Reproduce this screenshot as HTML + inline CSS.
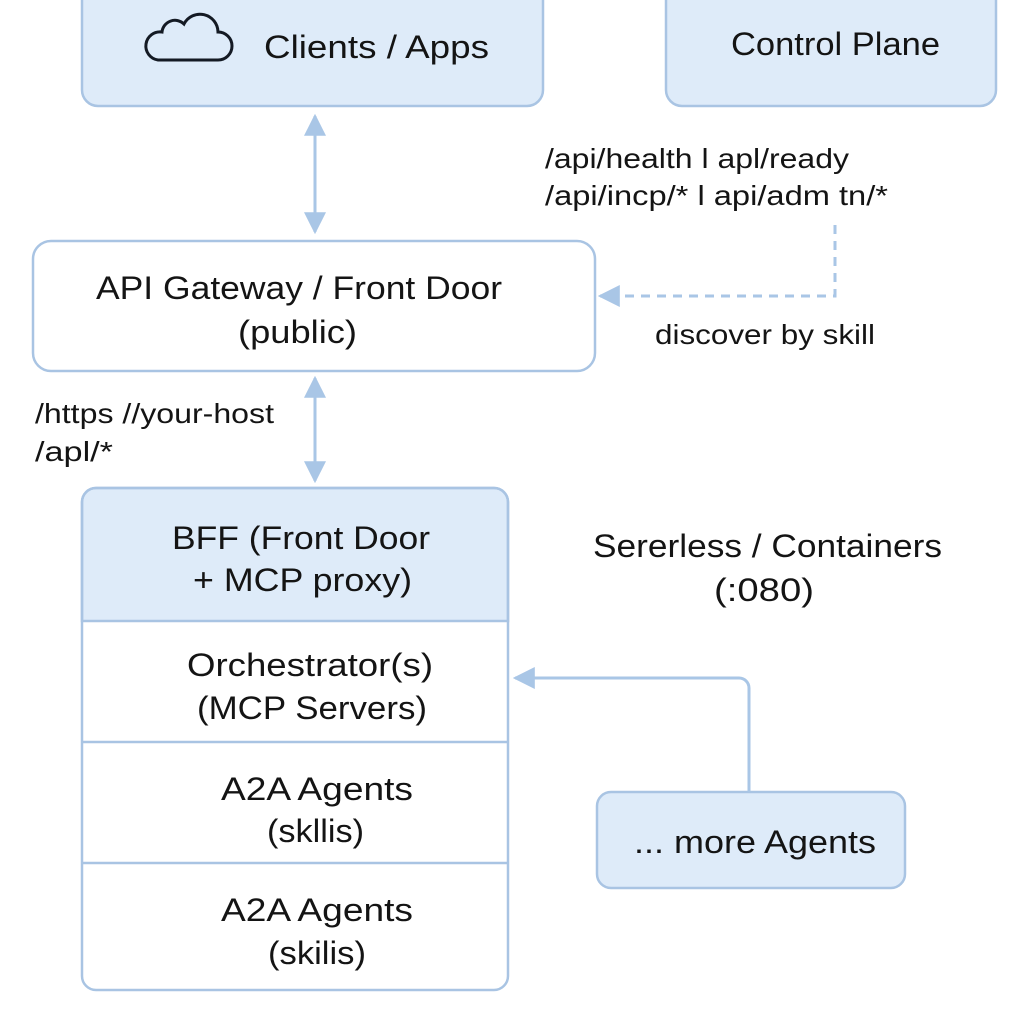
<!DOCTYPE html>
<html><head><meta charset="utf-8"><style>html,body{margin:0;padding:0;background:#fff}svg{display:block}text{font-family:"Liberation Sans","DejaVu Sans",sans-serif;fill:#141414}</style></head>
<body>
<svg width="1024" height="1024" viewBox="0 0 1024 1024" xmlns="http://www.w3.org/2000/svg">
<defs>
<marker id="ab" viewBox="0 0 10 10" markerWidth="22" markerHeight="22" refX="9" refY="5" orient="auto-start-reverse" markerUnits="userSpaceOnUse"><path d="M0,0 L10,5 L0,10 z" fill="#a9c6e6"/></marker>
</defs>
<g stroke="#a9c4e3" stroke-width="2.5">
<rect x="82" y="-20" width="461" height="126" rx="16" fill="#deebf9"/>
<rect x="666" y="-20" width="330" height="126" rx="16" fill="#deebf9"/>
<rect x="33" y="241" width="562" height="130" rx="18" fill="#fff"/>
<path d="M82,621 V502 a14,14 0 0 1 14,-14 H494 a14,14 0 0 1 14,14 V621 Z" fill="#deebf9"/>
<rect x="82" y="488" width="426" height="502" rx="14" fill="none"/>
<line x1="82" y1="742" x2="508" y2="742"/>
<line x1="82" y1="863" x2="508" y2="863"/>
<rect x="597" y="792" width="308" height="96" rx="14" fill="#deebf9"/>
</g>
<g stroke="#a9c6e6" stroke-width="3" fill="none">
<line x1="315" y1="116" x2="315" y2="232" marker-start="url(#ab)" marker-end="url(#ab)"/>
<line x1="315" y1="378" x2="315" y2="481" marker-start="url(#ab)" marker-end="url(#ab)"/>
<path d="M835,225 V296 H600" stroke-dasharray="9,7" marker-end="url(#ab)"/>
<path d="M749,792 V688 a10,10 0 0 0 -10,-10 H515" marker-end="url(#ab)"/>
</g>
<path d="M158,60 h60 a14,14 0 0 0 0,-28 a18,18 0 0 0 -34,-8 a13,13 0 0 0 -22,8 a14,14 0 0 0 -4,28 z" fill="none" stroke="#141a24" stroke-width="3"/>
<g font-size="32" lengthAdjust="spacingAndGlyphs">
<text x="264" y="58" textLength="225" lengthAdjust="spacingAndGlyphs">Clients / Apps</text>
<text x="731" y="55" textLength="209" lengthAdjust="spacingAndGlyphs">Control Plane</text>
<text x="545" y="168" font-size="28" textLength="304" lengthAdjust="spacingAndGlyphs">/api/health l apl/ready</text>
<text x="545" y="205" font-size="28" textLength="343" lengthAdjust="spacingAndGlyphs">/api/incp/* l api/adm tn/*</text>
<text x="655" y="344" font-size="28" textLength="220" lengthAdjust="spacingAndGlyphs">discover by skill</text>
<text x="96" y="299" textLength="406" lengthAdjust="spacingAndGlyphs">API Gateway / Front Door</text>
<text x="238" y="343" textLength="119" lengthAdjust="spacingAndGlyphs">(public)</text>
<text x="35" y="423" font-size="28" textLength="239" lengthAdjust="spacingAndGlyphs">/https //your-host</text>
<text x="35" y="461" font-size="28" textLength="78" lengthAdjust="spacingAndGlyphs">/apl/*</text>
<text x="172" y="549" textLength="258" lengthAdjust="spacingAndGlyphs">BFF (Front Door</text>
<text x="193" y="591" textLength="219" lengthAdjust="spacingAndGlyphs">+ MCP proxy)</text>
<text x="187" y="676" textLength="246" lengthAdjust="spacingAndGlyphs">Orchestrator(s)</text>
<text x="197" y="719" textLength="230" lengthAdjust="spacingAndGlyphs">(MCP Servers)</text>
<text x="221" y="800" textLength="192" lengthAdjust="spacingAndGlyphs">A2A Agents</text>
<text x="267" y="842" textLength="97" lengthAdjust="spacingAndGlyphs">(skllis)</text>
<text x="221" y="921" textLength="192" lengthAdjust="spacingAndGlyphs">A2A Agents</text>
<text x="268" y="964" textLength="98" lengthAdjust="spacingAndGlyphs">(skilis)</text>
<text x="593" y="557" textLength="349" lengthAdjust="spacingAndGlyphs">Sererless / Containers</text>
<text x="714" y="601" textLength="100" lengthAdjust="spacingAndGlyphs">(:080)</text>
<text x="634" y="853" textLength="242" lengthAdjust="spacingAndGlyphs">... more Agents</text>
</g>
</svg>
</body></html>
